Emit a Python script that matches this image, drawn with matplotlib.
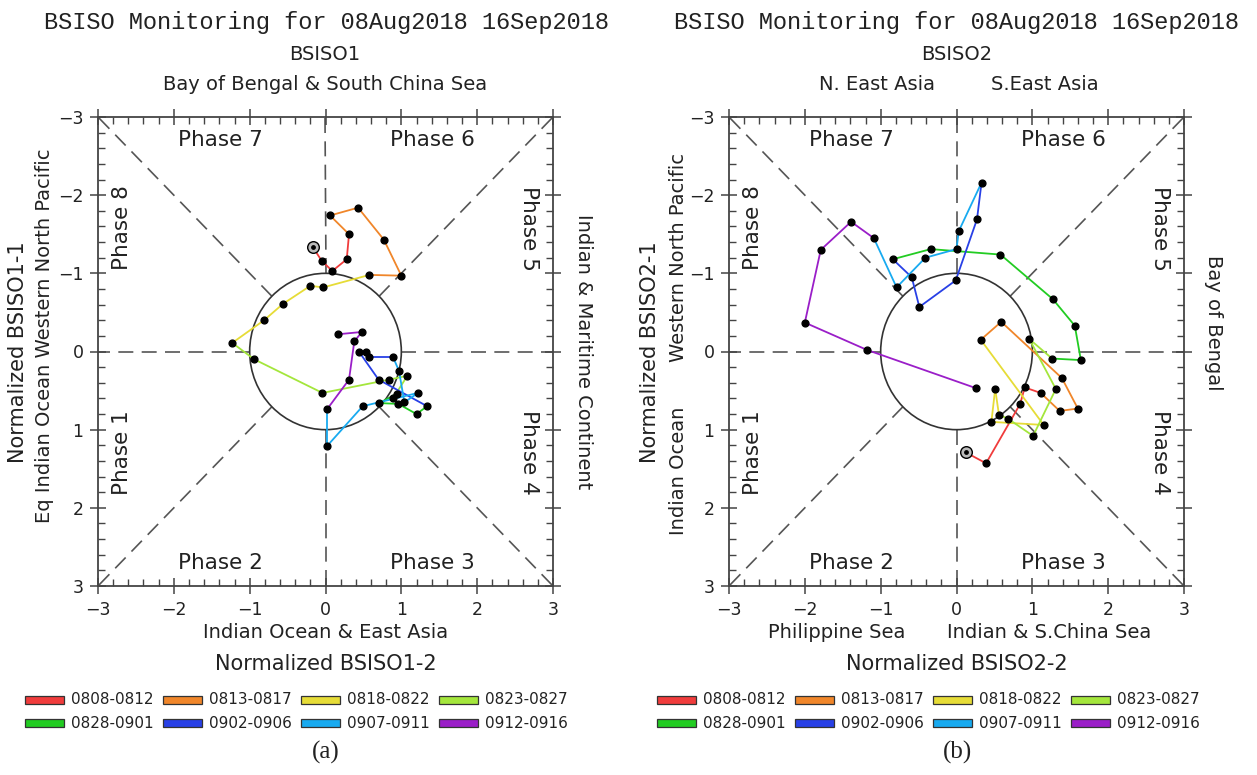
import numpy as np
import matplotlib
matplotlib.use("Agg")
import matplotlib.pyplot as plt
from matplotlib.patches import Circle, Rectangle
from matplotlib.ticker import MultipleLocator

# periods (5 days each) and their colours
periods = ["0808-0812", "0813-0817", "0818-0822", "0823-0827",
           "0828-0901", "0902-0906", "0907-0911", "0912-0916"]
colors = ["#f03c3c", "#f0862a", "#e6dc37", "#a4e63c",
          "#22cc22", "#2840e6", "#18aaf0", "#9a1ec8"]

# BSISO1: x = PC2, y = PC1 (daily, 08Aug - 16Sep)
b1_pc2 = [-0.17, -0.05, 0.09, 0.28, 0.31,
          0.06, 0.43, 0.77, 1.00, 0.58,
          -0.03, -0.20, -0.56, -0.81, -1.23,
          -0.94, -0.04, 0.84, 1.08, 0.89,
          0.94, 0.71, 0.96, 1.20, 1.34,
          0.70, 0.44, 0.54, 0.57, 0.89,
          0.97, 1.04, 1.22, 0.49, 0.02, 0.02,
          0.31, 0.38, 0.48, 0.16]
b1_pc1 = [-1.34, -1.16, -1.03, -1.18, -1.50,
          -1.74, -1.84, -1.43, -0.97, -0.98,
          -0.82, -0.84, -0.61, -0.40, -0.11,
          0.10, 0.53, 0.36, 0.31, 0.60,
          0.54, 0.66, 0.67, 0.80, 0.70,
          0.36, 0.00, 0.00, 0.07, 0.07,
          0.25, 0.65, 0.53, 0.70, 1.21, 0.74,
          0.36, -0.13, -0.25, -0.22]
b1_count = [5, 5, 5, 5, 5, 5, 6, 4]

# BSISO2: x = PC2, y = PC1
b2_pc2 = [0.12, 0.39, 0.84, 0.90, 1.11,
          1.36, 1.60, 1.39, 0.59, 0.32,
          1.15, 0.46, 0.51, 0.56,
          0.68, 1.01, 1.31, 0.96, 1.26,
          1.64, 1.56, 1.27, 0.58, -0.34, -0.84,
          -0.59, -0.49, -0.01, 0.27, 0.33,
          0.03, 0.00, -0.41, -0.79, -1.09,
          -1.39, -1.79, -2.00, -1.18, 0.26]
b2_pc1 = [1.29, 1.43, 0.67, 0.46, 0.53,
          0.76, 0.73, 0.34, -0.38, -0.15,
          0.94, 0.90, 0.48, 0.81,
          0.86, 1.08, 0.48, -0.16, 0.09,
          0.11, -0.33, -0.67, -1.24, -1.31, -1.18,
          -0.95, -0.57, -0.91, -1.69, -2.16,
          -1.54, -1.31, -1.20, -0.82, -1.45,
          -1.66, -1.30, -0.37, -0.02, 0.47]
b2_count = [5, 5, 4, 5, 6, 5, 5, 5]

W, H = 1257, 775
fig = plt.figure(figsize=(W / 100, H / 100), dpi=100)
TXT = "#222222"
GR = "#444444"


def fx(x):
    return x / W


def fy(y):
    return 1 - y / H


def txt(x, y, s, size=14, rot=0, **kw):
    fig.text(fx(x), fy(y), s, fontsize=size, rotation=rot, color=TXT,
             ha="center", va="center", **kw)


def panel(left, pc2, pc1, count):
    ax = fig.add_axes([fx(left), fy(586), 455 / W, 469 / H])
    ax.set_xlim(-3, 3)
    ax.set_ylim(3, -3)
    for s in ax.spines.values():
        s.set_color(GR)
        s.set_linewidth(1.3)
    ax.xaxis.set_major_locator(MultipleLocator(1))
    ax.yaxis.set_major_locator(MultipleLocator(1))
    ax.xaxis.set_minor_locator(MultipleLocator(0.2))
    ax.yaxis.set_minor_locator(MultipleLocator(0.2))
    ax.tick_params(which="major", direction="inout", length=11, width=1.1,
                   top=True, right=True, labelsize=12.5, color=GR,
                   labelcolor=TXT, pad=5)
    ax.tick_params(which="minor", direction="in", length=5, width=1,
                   top=True, right=True, color=GR)

    # phase dividers
    for k in range(8):
        a = np.deg2rad(45 * k)
        c, s = np.cos(a), np.sin(a)
        t = 3 / max(abs(c), abs(s))
        ax.plot([c, c * t], [s, s * t], color="#555555", lw=1.2,
                ls=(0, (9, 5)), zorder=1)
    ax.add_patch(Circle((0, 0), 1, fill=False, ec="#333333", lw=1.2, zorder=2))

    for lab, x, y, r in [("Phase 7", -1.39, -2.70, 0), ("Phase 6", 1.41, -2.70, 0),
                         ("Phase 2", -1.39, 2.70, 0), ("Phase 3", 1.41, 2.70, 0),
                         ("Phase 8", -2.68, -1.58, 90), ("Phase 1", -2.68, 1.29, 90),
                         ("Phase 5", 2.69, -1.58, -90), ("Phase 4", 2.69, 1.29, -90)]:
        ax.text(x, y, lab, fontsize=15.5, rotation=r, ha="center", va="center",
                color=TXT)

    pc2 = np.asarray(pc2)
    pc1 = np.asarray(pc1)
    pid = np.repeat(np.arange(len(count)), count)
    for i in range(1, len(pc2)):
        ax.plot(pc2[i - 1:i + 1], pc1[i - 1:i + 1], color=colors[pid[i]],
                lw=1.3, zorder=3)
    ax.scatter(pc2, pc1, s=24, c="k", zorder=4)
    ax.scatter(pc2[:1], pc1[:1], s=70, facecolor="#bbbbbb", edgecolor="k",
               lw=1, zorder=5)
    ax.scatter(pc2[:1], pc1[:1], s=6, c="k", zorder=6)
    return ax


def legend(off):
    for i, (p, c) in enumerate(zip(periods, colors)):
        row, col = divmod(i, 4)
        x0 = off + 25 + col * 138
        yc = 700 + row * 23
        fig.add_artist(Rectangle((fx(x0), fy(yc + 4)), 39 / W, 8 / H,
                                 facecolor=c, edgecolor="#333333", lw=0.9,
                                 transform=fig.transFigure))
        fig.text(fx(x0 + 46), fy(yc), p, fontsize=11, color=TXT,
                 ha="left", va="center")


title = "BSISO Monitoring for 08Aug2018 16Sep2018"

# panel (a)
panel(98, b1_pc2, b1_pc1, b1_count)
txt(327, 22, title, size=17, family="Liberation Mono")
txt(325, 55, "BSISO1")
txt(325, 85, "Bay of Bengal & South China Sea")
txt(326, 633, "Indian Ocean & East Asia")
txt(326, 664, "Normalized BSISO1-2", size=15)
txt(18, 352, "Normalized BSISO1-1", size=15, rot=90)
txt(45, 336, "Eq Indian Ocean Western North Pacific", rot=90)
txt(583, 352, "Indian & Maritime Continent", rot=-90)
legend(0)
txt(326, 752, "(a)", size=18, family="Liberation Serif")

# panel (b)
panel(729, b2_pc2, b2_pc1, b2_count)
txt(957, 22, title, size=17, family="Liberation Mono")
txt(957, 55, "BSISO2")
txt(877, 85, "N. East Asia")
txt(1045, 85, "S.East Asia")
txt(837, 633, "Philippine Sea")
txt(1049, 633, "Indian & S.China Sea")
txt(957, 664, "Normalized BSISO2-2", size=15)
txt(650, 352, "Normalized BSISO2-1", size=15, rot=90)
txt(678, 258, "Western North Pacific", rot=90)
txt(678, 471, "Indian Ocean", rot=90)
txt(1213, 323, "Bay of Bengal", rot=-90)
legend(632)
txt(957, 752, "(b)", size=18, family="Liberation Serif")

fig.savefig("out.png", dpi=100)
